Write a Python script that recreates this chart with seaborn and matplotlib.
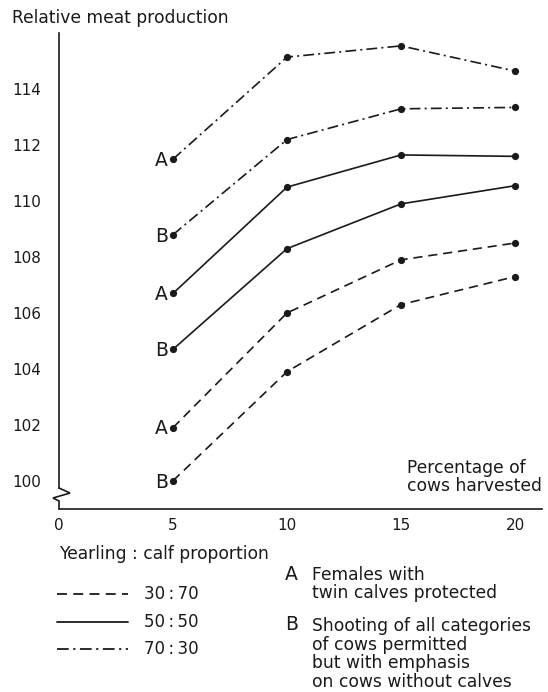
import matplotlib
matplotlib.use("Agg")
import matplotlib.pyplot as plt
import seaborn as sns
import pandas as pd
from matplotlib.lines import Line2D

# ---- data ----
pct_harvested = [5, 10, 15, 20]
ratios = ["30 : 70", "50 : 50", "70 : 30"]
scenarios = ["A", "B"]
a_30_70 = [101.9, 106.0, 107.9, 108.5]
b_30_70 = [100.0, 103.9, 106.3, 107.3]
a_50_50 = [106.7, 110.5, 111.65, 111.6]
b_50_50 = [104.7, 108.3, 109.9, 110.55]
a_70_30 = [111.5, 115.15, 115.55, 114.65]
b_70_30 = [108.8, 112.2, 113.3, 113.35]
y_ticks = [100, 102, 104, 106, 108, 110, 112, 114]
x_ticks = [0, 5, 10, 15, 20]

series = {
    ("30 : 70", "A"): a_30_70, ("30 : 70", "B"): b_30_70,
    ("50 : 50", "A"): a_50_50, ("50 : 50", "B"): b_50_50,
    ("70 : 30", "A"): a_70_30, ("70 : 30", "B"): b_70_30,
}
rows = []
for (r, s), vals in series.items():
    for p, v in zip(pct_harvested, vals):
        rows.append({"pct": p, "value": v, "ratio": r, "scenario": s})
df = pd.DataFrame(rows)

sns.set_theme(style="white")
plt.rcParams["font.family"] = ["DejaVu Sans"]
INK = "#1a1a1a"
TXT = 12.3

W, H = 548, 692
fig = plt.figure(figsize=(W / 100, H / 100), dpi=100)
ax = fig.add_axes([59 / W, 1 - 508.7 / H, 483.4 / W, 475.4 / H])

dash_map = {"30 : 70": (5.5, 3.5), "50 : 50": "", "70 : 30": (6.5, 2.5, 1.2, 2.5)}
sns.lineplot(data=df, x="pct", y="value", style="ratio", units="scenario",
             estimator=None, dashes=dash_map, markers={r: "o" for r in ratios},
             color=INK, linewidth=1.2, markersize=5.2, markeredgewidth=0,
             legend=False, ax=ax, sort=False)

# A / B labels next to the first point of each line
for (r, s), vals in series.items():
    ax.annotate(s, xy=(pct_harvested[0], vals[0]), xytext=(-3.5, -1),
                textcoords="offset points", ha="right", va="center",
                fontsize=13.5, color=INK)

ylo, yhi = 99.0, 116.0
ax.set_xlim(0, 21.2)
ax.set_ylim(ylo, yhi)
ax.set_xticks(x_ticks)
ax.set_yticks(y_ticks)
ax.set_xlabel("")
ax.set_ylabel("")
for sp in ["top", "right"]:
    ax.spines[sp].set_visible(False)
for sp in ["left", "bottom"]:
    ax.spines[sp].set_color(INK)
    ax.spines[sp].set_linewidth(1.2)
ax.tick_params(direction="in", length=6.5, width=1.2, color=INK,
               labelsize=11, labelcolor=INK)
ax.tick_params(axis="y", pad=13)
ax.tick_params(axis="x", pad=7)

# axis break: interrupt the left spine and draw a zigzag
brk_top = 0.0435
ax.spines["left"].set_bounds(ylo + brk_top * (yhi - ylo), yhi)
zx = [0.0, 0.0228, -0.0124, 0.0, 0.0]
zy = [brk_top, 0.033, 0.0225, 0.0162, 0.0]
ax.plot(zx, zy, transform=ax.transAxes, color=INK, lw=1.2, clip_on=False,
        solid_joinstyle="miter")

# titles
fig.text(12 / W, 1 - 18 / H, "Relative meat production", fontsize=TXT,
         color=INK, va="center", ha="left")
fig.text(407 / W, 1 - 477 / H, "Percentage of\ncows harvested", fontsize=TXT,
         color=INK, va="center", ha="left", linespacing=1.0)

# bottom legend
fig.text(59 / W, 1 - 554 / H, "Yearling : calf proportion", fontsize=TXT,
         color=INK, va="center", ha="left")
row_y = [594, 622, 649]
for r, yp in zip(ratios, row_y):
    yf = 1 - yp / H
    fig.add_artist(Line2D([57 / W, 128 / W], [yf, yf], color=INK, lw=1.3,
                          linestyle=(0, dash_map[r]) if dash_map[r] else "-"))
    fig.text(144 / W, yf, r.replace(" ", "\u2009"), fontsize=12, color=INK,
             va="center", ha="left")

fig.text(285 / W, 1 - 575 / H, "A", fontsize=13.5, color=INK, va="center")
fig.text(312 / W, 1 - 584 / H, "Females with\ntwin calves protected",
         fontsize=TXT, color=INK, va="center", ha="left", linespacing=1.05)
fig.text(285 / W, 1 - 625 / H, "B", fontsize=13.5, color=INK, va="center")
fig.text(312 / W, 1 - 654 / H,
         "Shooting of all categories\nof cows permitted\nbut with emphasis\non cows without calves",
         fontsize=TXT, color=INK, va="center", ha="left", linespacing=1.05)

fig.savefig("out.png", dpi=100)
